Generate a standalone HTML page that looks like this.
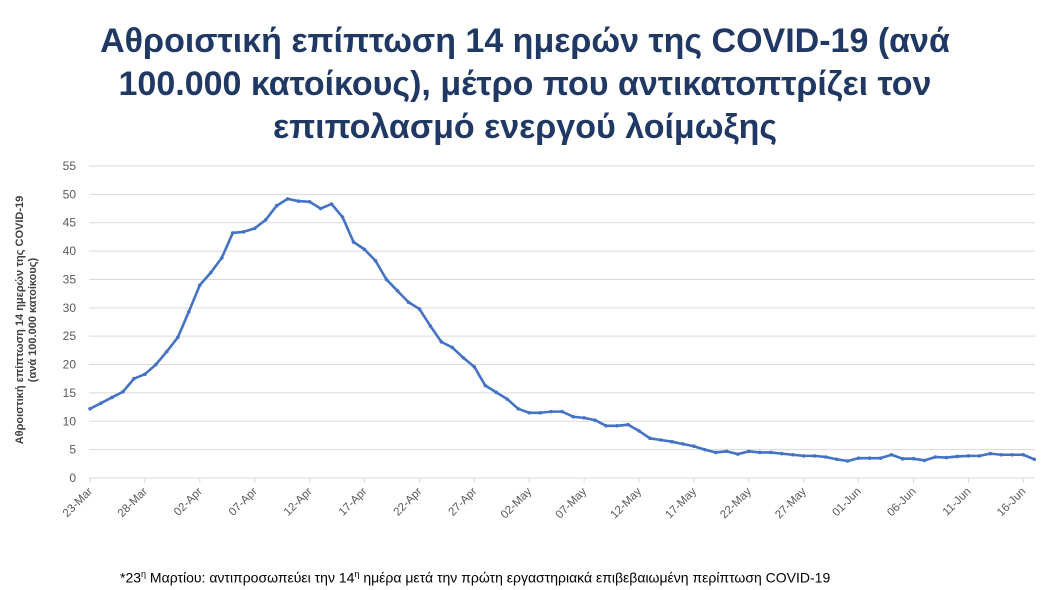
<!DOCTYPE html>
<html><head><meta charset="utf-8"><style>
body{margin:0;background:#fff;width:1050px;height:590px;overflow:hidden;font-family:"Liberation Sans",sans-serif}
#title{position:absolute;left:0;top:20px;width:1050px;text-align:center;font-weight:bold;font-size:34px;line-height:43px;color:#1f3864;white-space:nowrap}
#foot{position:absolute;left:120px;top:569px;font-size:14px;color:#000;white-space:nowrap}
</style></head><body>
<div id="title">Αθροιστική επίπτωση 14 ημερών της COVID-19 (ανά<br>100.000 κατοίκους), μέτρο που αντικατοπτρίζει τον<br>επιπολασμό ενεργού λοίμωξης</div>
<svg id="chart" width="1050" height="590" style="position:absolute;left:0;top:0"></svg>
<div id="foot">*23<sup style="font-size:9px">η</sup> Μαρτίου: αντιπροσωπεύει την 14<sup style="font-size:9px">η</sup> ημέρα μετά την πρώτη εργαστηριακά επιβεβαιωμένη περίπτωση COVID-19</div>
<script>
const values=[12.2,13.2,14.2,15.2,17.5,18.3,20,22.3,24.8,
29.3,34,36.2,38.8,43.2,43.4,44,45.5,48,49.2,48.8,48.7,47.5,48.3,46,41.6,40.3,38.3,35,33,31,29.8,26.8,24,23,21.2,19.6,16.3,15.1,13.9,
12.2,11.5,11.5,11.7,11.7,10.8,10.6,10.2,9.2,9.2,9.4,8.3,7,6.7,6.4,6,5.6,5,4.5,4.7,4.2,4.7,4.5,4.5,4.3,4.1,3.9,3.9,3.7,3.3,3.0,3.5,
3.5,3.5,4.1,3.4,3.4,3.1,3.7,3.6,3.8,3.9,3.9,4.3,4.1,4.1,4.1,3.3];
const xTickLabels=["23-Mar","28-Mar","02-Apr","07-Apr","12-Apr","17-Apr","22-Apr","27-Apr","02-May","07-May","12-May","17-May","22-May","27-May","01-Jun","06-Jun","11-Jun","16-Jun"];
const yTicks=[0,5,10,15,20,25,30,35,40,45,50,55];
const svg=document.getElementById('chart');
const NS='http://www.w3.org/2000/svg';
const x0=90,dx=10.98,y0=478,ymax=55,ytop=166,xr=1035;
const X=i=>x0+i*dx, Y=v=>y0-(v/ymax)*(y0-ytop);
function mk(t,a){const e=document.createElementNS(NS,t);for(const k in a)e.setAttribute(k,a[k]);svg.appendChild(e);return e;}
yTicks.forEach(v=>{
 const l=mk('line',{x1:x0-1,x2:xr,y1:Y(v),y2:Y(v),stroke:'#d9d9d9','stroke-width':1});
 
 
 const t=mk('text',{x:76,y:Y(v)+4,'text-anchor':'end','font-size':12,fill:'#595959'});
 t.textContent=v;
 
 
});
xTickLabels.forEach((s,k)=>{
 const xx=X(k*5);
 const tk=mk('line',{x1:xx,x2:xx,y1:y0,y2:y0+5,stroke:'#d9d9d9'});
 
 
 const t=mk('text',{x:xx+3,y:y0+14,'text-anchor':'end','font-size':11.5,fill:'#595959',transform:`rotate(-45 ${xx+3} ${y0+14})`});
 t.textContent=s;
 
 
});
const yt=mk('text',{x:0,y:0,'text-anchor':'middle','font-size':11,'font-weight':'bold',fill:'#404040',transform:'translate(23,320) rotate(-90)'});


yt.innerHTML='<tspan x="0" dy="0">Αθροιστική επίπτωση 14 ημερών της COVID-19</tspan><tspan x="0" dy="13">(ανά 100.000 κατοίκους)</tspan>';
const line=mk('polyline',{points:values.map((v,i)=>X(i)+','+Y(v)).join(' '),fill:'none',stroke:'#4472c4','stroke-width':2.6,'stroke-linejoin':'round'});


values.forEach((v,i)=>{
 const c=mk('circle',{cx:X(i),cy:Y(v),r:1.8,fill:'#4472c4'});
 
 
});
</script>
</body></html>
